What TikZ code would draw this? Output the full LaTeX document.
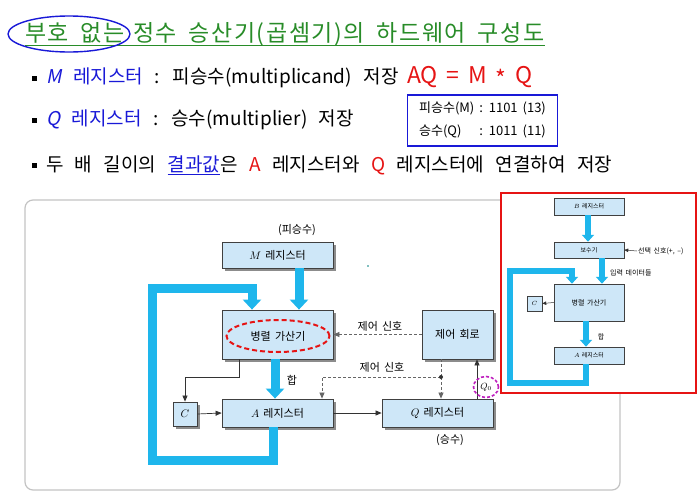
\documentclass[tikz,border=0pt]{standalone}
\usepackage{fontspec}
\setmainfont{Noto Sans CJK KR}[WordSpace=1.7, ItalicFont={Noto Sans CJK KR}, ItalicFeatures={FakeSlant=0.2}]
\newfontfamily\titolofont{Noto Sans CJK KR}[WordSpace=1.7, LetterSpace=7]
\newfontfamily\puntifont{Noto Sans CJK KR}[WordSpace=2.6, LetterSpace=0.5, ItalicFont={Noto Sans CJK KR}, ItalicFeatures={FakeSlant=0.2}]
\usetikzlibrary{positioning, calc, arrows.meta, shadows, fit, shapes.geometric}
\definecolor{verde}{RGB}{40,140,40}
\definecolor{blu}{RGB}{25,25,215}
\definecolor{rosso}{RGB}{230,20,20}
\definecolor{azzurro}{RGB}{206,231,248}
\definecolor{ciano}{RGB}{30,182,236}
\definecolor{grigio}{RGB}{195,195,195}
\definecolor{viola}{RGB}{190,30,190}
\tikzset{
    regbase/.style={draw=black!75, fill=azzurro, inner sep=0, line width=0.8pt},
    reg/.style={regbase, font=\fontsize{11}{13}\selectfont, drop shadow={shadow xshift=2.5pt, shadow yshift=-2.5pt, fill=black!45, opacity=1}},
    regp/.style={regbase, line width=0.5pt, font=\fontsize{6}{7}\selectfont, drop shadow={shadow xshift=1.2pt, shadow yshift=-1.2pt, fill=black!40, opacity=1}},
    grossa/.style={draw=ciano, line width=9pt, line join=miter, -{Triangle[length=10pt, width=18pt]}},
    grossap/.style={draw=ciano, line width=5.5pt, line join=miter, -{Triangle[length=7pt, width=12pt]}},
    sottile/.style={draw=black!80, line width=0.7pt, -{Triangle[length=6pt, width=5pt]}},
    sottilep/.style={draw=black!80, line width=0.5pt, -{Triangle[length=4pt, width=3.5pt]}},
    tratt/.style={sottile, draw=black!60, dash pattern=on 3pt off 2pt},
    lbl/.style={font=\fontsize{11}{13}\selectfont, inner sep=1pt},
    lblp/.style={font=\fontsize{7}{8}\selectfont, inner sep=1pt},
    punti/.style={font=\puntifont\fontsize{19}{22}\selectfont, inner sep=0, anchor=west},
    quad/.style={fill=black, minimum size=5pt, inner sep=0}
}
\begin{document}
\begin{tikzpicture}[x=1pt, y=-1pt]
    \useasboundingbox (0,0) rectangle (697,493);
    %titolo
    \node[anchor=base west, inner sep=0, text=verde, font=\titolofont\fontsize{23}{26}\selectfont] (titA) at (25,41) {부호 없는};
    \node[anchor=base west, inner sep=0, text=verde, font=\titolofont\fontsize{23}{26}\selectfont] (titB) at (133,41) {정수 승산기(곱셈기)의 하드웨어 구성도};
    \draw[verde, line width=1pt] ([yshift=-4pt]titA.base west) -- ([yshift=-4pt]titB.base east);
    \node[ellipse, draw=blu, line width=1.4pt, minimum width=122, minimum height=36] (cerchio) at (69,34) {};
    %punti elenco
    \node[quad] (q1) at (34.5,78) {};
    \node[punti] (p1) at (46,78) {\textcolor{blu}{\textit{M} 레지스터} : 피승수(multiplicand) 저장};
    \node[anchor=west, inner sep=0, text=rosso, font=\fontsize{23}{26}\selectfont] (eq) at (407,77) {AQ = M \raisebox{-0.3ex}{*} Q};
    \node[quad] (q2) at (34.5,120) {};
    \node[punti] (p2) at (46,120) {\textcolor{blu}{\textit{Q} 레지스터} : 승수(multiplier) 저장};
    \node[quad] (q3) at (34.5,165) {};
    \node[punti] (p3) at (46,165) {두 배 길이의 \textcolor{blu}{\underline{결과값}}은 \textcolor{rosso}{A} 레지스터와 \textcolor{rosso}{Q} 레지스터에 연결하여 저장};
    %riquadro esempio
    \node[draw=blu, line width=1.3pt, minimum width=150, minimum height=51, inner sep=0, font=\fontsize{13}{15}\selectfont] (info) at (482.5,120.5)
        {\begin{tabular}{@{}l@{ }l@{}}피승수(M) & : 1101 (13)\\[8pt] 승수(Q) & : 1011 (11)\end{tabular}};
    %pannello
    \draw[grigio, line width=1.2pt, rounded corners=8pt] (25,200) rectangle (620,490);
    %registri
    \node[reg, minimum width=111, minimum height=26] (mReg) at (277.5,255) {$M$ 레지스터};
    \node[reg, minimum width=111, minimum height=49] (adder) at (277.5,334.5) {};
    \node[ellipse, draw=rosso, line width=2pt, dash pattern=on 5pt off 3pt, minimum width=103, minimum height=32, font=\fontsize{11}{13}\selectfont] (ellAdder) at (278,336) {병렬 가산기};
    \node[reg, minimum width=111, minimum height=28] (aReg) at (277.5,413) {$A$ 레지스터};
    \node[reg, minimum width=111, minimum height=28] (qReg) at (437.5,413) {$Q$ 레지스터};
    \node[reg, minimum width=71, minimum height=49] (ctrl) at (457.5,334.5) {제어 회로};
    \node[reg, minimum width=24, minimum height=24] (cBox) at (185,414) {$C$};
    \node[lbl] (lblM) at (297,230) {(피승수)};
    \node[lbl] (lblQ) at (450,440) {(승수)};
    %frecce grosse
    \draw[grossa] (mReg.south -| 299,0) -- (adder.north -| 299,0);
    \draw[grossa] (adder.south -| 275,0) -- (aReg.north -| 275,0);
    \coordinate (ang1) at (273,460);
    \coordinate (ang2) at (152,460);
    \coordinate (ang3) at (152,288);
    \coordinate (ang4) at (252,288);
    \draw[grossa] (aReg.south -| ang1) -- (ang1) -- (ang2) -- (ang3) -- (ang4) -- (adder.north -| ang4);
    \node[lbl] (somma) at (292,380) {합};
    %collegamenti
    \coordinate (cTurn) at (cBox.north |- 0,377);
    \draw[sottile] (adder.south -| 239,0) |- (cTurn) -- (cBox.north);
    \draw[sottile] (cBox.east) -- (aReg.west);
    \draw[sottile] (aReg.east) -- (qReg.west);
    %segnali di controllo
    \coordinate (punto) at (441,377);
    \draw[tratt] (ctrl.west) -- (adder.east);
    \draw[tratt, -] (ctrl.south -| punto) -- (punto);
    \draw[tratt] (punto) -- (qReg.north -| punto);
    \draw[tratt] (punto) -| (aReg.north -| 322,0);
    \fill[black!80] (punto) circle (2);
    \node[lbl] (seg1) at (380,326) {제어 신호};
    \node[lbl] (seg2) at (382,367) {제어 신호};
    \draw[sottile] (qReg.north -| 477,0) -- (ctrl.south -| 477,0);
    \node[ellipse, draw=viola, line width=1.6pt, dash pattern=on 3pt off 2pt, minimum width=25, minimum height=21, inner sep=0, font=\fontsize{9}{10}\selectfont] (q0) at (486,387) {$Q_0$};
    \fill[teal] (368,266) circle (0.8);
    %riquadro rosso
    \draw[rosso, line width=1.5pt, fill=white] (501,193) rectangle (696,393);
    \node[regp, minimum width=70, minimum height=17] (bReg) at (589,206.5) {$B$ 레지스터};
    \node[regp, minimum width=70, minimum height=16] (compl) at (589,250) {보수기};
    \node[regp, minimum width=70, minimum height=37, font=\fontsize{7}{8}\selectfont] (sAdder) at (589,302.5) {병렬 가산기};
    \node[regp, minimum width=15, minimum height=15] (sC) at (534.5,303.5) {$C$};
    \node[regp, minimum width=70, minimum height=17] (sAReg) at (589,355.5) {$A$ 레지스터};
    \draw[grossap] (bReg.south -| 588,0) -- (compl.north -| 588,0);
    \draw[grossap] (compl.south -| 602,0) -- (sAdder.north -| 602,0);
    \draw[grossap] (sAdder.south -| 586,0) -- (sAReg.north -| 586,0);
    \coordinate (sang1) at (586,383);
    \coordinate (sang2) at (510,383);
    \coordinate (sang3) at (510,271);
    \coordinate (sang4) at (572,271);
    \draw[grossap] (sAReg.south -| sang1) -- (sang1) -- (sang2) -- (sang3) -- (sang4) -- (sAdder.north -| sang4);
    \node[lblp, anchor=west] (sel) at (637,251) {선택 신호(+, –)};
    \draw[sottilep] (sel.west) -- (compl.east);
    \node[lblp, anchor=west] (dati) at (609,273) {입력 데이터들};
    \draw[sottilep] (sAdder.west) -- (sC.east);
    \node[lblp] (ssomma) at (601,337) {합};
\end{tikzpicture}
\end{document}
